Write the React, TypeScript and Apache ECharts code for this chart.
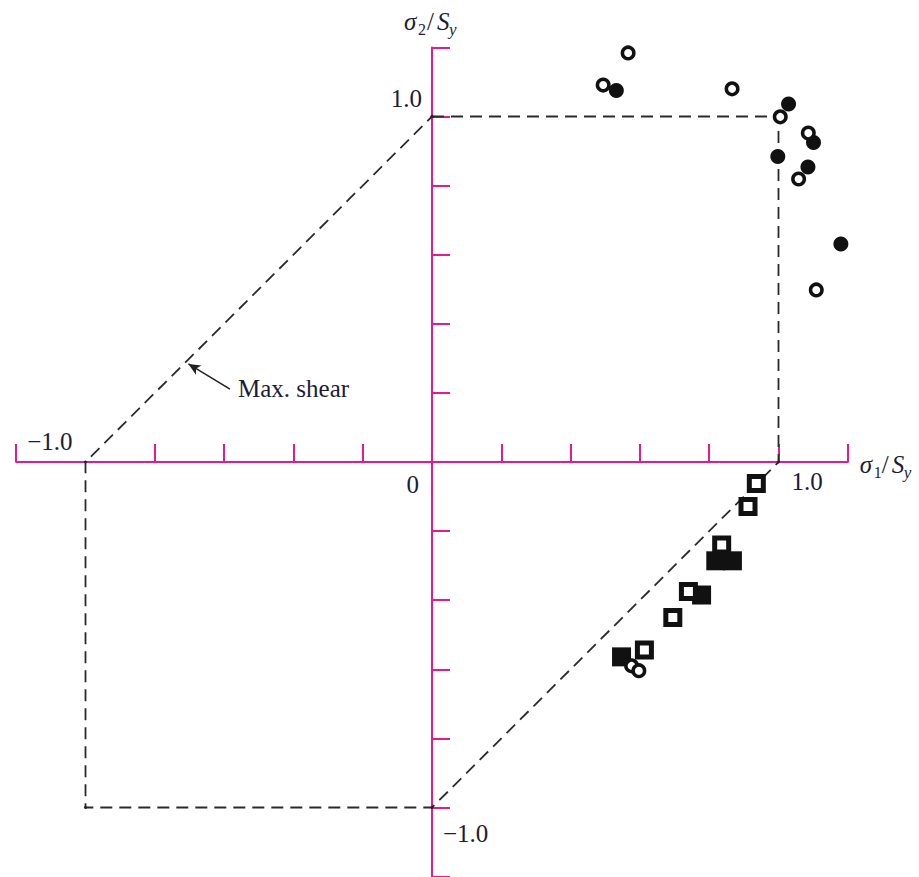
import React, { useEffect, useRef } from "react";
import * as echarts from "echarts";

// Normalised principal stresses (σ1/Sy, σ2/Sy) of the test specimens
const openCircles: [number, number][] = [
  [0.566, 1.184], [0.494, 1.091], [0.866, 1.08], [1.005, 0.999], [1.086, 0.952],
  [1.058, 0.819], [1.109, 0.498], [0.576, -0.59], [0.597, -0.604],
];
const filledCircles: [number, number][] = [
  [0.532, 1.075], [1.029, 1.036], [0.998, 0.884], [1.101, 0.925], [1.085, 0.854],
  [1.18, 0.631],
];
const openSquares: [number, number][] = [
  [0.936, -0.062], [0.912, -0.129], [0.836, -0.24], [0.74, -0.375], [0.695, -0.45],
  [0.613, -0.544],
];
const filledSquares: [number, number][] = [
  [0.819, -0.286], [0.867, -0.286], [0.778, -0.385], [0.547, -0.564],
];

// Maximum-shear-stress (Tresca) hexagon
const trescaHexagon: [number, number][] = [
  [0, 1], [1, 1], [1, 0], [0, -1], [-1, -1], [-1, 0], [0, 1],
];

// Ticks drawn on each axis
const xTicks = [-1.2, -0.8, -0.6, -0.4, -0.2, 0.2, 0.4, 0.6, 0.8, 1.0, 1.2];
const yTicks = [-1.2, -1.0, -0.8, -0.6, -0.4, -0.2, 0.2, 0.4, 0.6, 0.8, 1.0, 1.2];

// "Max. shear" pointer: tail and tip
const shearArrow: [number, number][] = [[-0.583, 0.211], [-0.703, 0.284]];

const MAGENTA = "#e8198b";
const INK = "#1c1c38";
const MARK = "#111111";
const SERIF = '"Liberation Serif", "Times New Roman", serif';
const FONT = 25;

export default function App() {
  const ref = useRef<HTMLDivElement>(null);

  useEffect(() => {
    const el = ref.current;
    if (!el) return;
    const chart = echarts.init(el, null, { renderer: "svg" });

    const axisCommon = {
      type: "value" as const,
      min: -1.2,
      max: 1.2,
      interval: 0.2,
      splitLine: { show: false },
      axisLabel: { show: false },
      axisLine: { show: true, onZero: true, lineStyle: { color: MAGENTA, width: 2 } },
    };

    chart.setOption({
      animation: false,
      backgroundColor: "#ffffff",
      grid: { left: 16.2, top: 47.4, width: 831.6, height: 829.2 },
      xAxis: {
        ...axisCommon,
        axisTick: {
          show: true,
          inside: true,
          length: 18,
          customValues: xTicks,
          lineStyle: { color: MAGENTA, width: 2 },
        },
      },
      yAxis: {
        ...axisCommon,
        axisTick: {
          show: true,
          inside: true,
          length: 18,
          customValues: yTicks,
          lineStyle: { color: MAGENTA, width: 2 },
        },
      },
      series: [
        {
          type: "line",
          data: trescaHexagon,
          symbol: "circle",
          symbolSize: 3,
          itemStyle: { color: "#222" },
          lineStyle: { color: "#2a2a2a", width: 1.8, type: [12, 7] },
          clip: false,
          z: 3,
          markLine: {
            silent: true,
            symbol: ["none", "arrow"],
            symbolSize: [8, 12],
            label: { show: false },
            lineStyle: { color: "#222", width: 1.6, type: "solid" },
            data: [[{ coord: shearArrow[0] }, { coord: shearArrow[1] }]],
          },
        },
        {
          type: "scatter",
          data: filledSquares,
          symbol: "rect",
          symbolSize: 19,
          itemStyle: { color: MARK, opacity: 1 },
          z: 4,
        },
        {
          type: "scatter",
          data: openSquares,
          symbol: "rect",
          symbolSize: 14,
          itemStyle: { color: "#fff", borderColor: MARK, borderWidth: 5, opacity: 1 },
          z: 5,
        },
        {
          type: "scatter",
          data: filledCircles,
          symbol: "circle",
          symbolSize: 15,
          itemStyle: { color: MARK, opacity: 1 },
          z: 6,
        },
        {
          type: "scatter",
          data: openCircles,
          symbol: "circle",
          symbolSize: 11.5,
          itemStyle: { color: "#fff", borderColor: MARK, borderWidth: 3.5, opacity: 1 },
          z: 7,
        },
      ],
    });

    const px = (p: [number, number]) =>
      chart.convertToPixel({ xAxisIndex: 0, yAxisIndex: 0 }, p) as number[];

    const txt = (
      text: string,
      x: number,
      y: number,
      opts: { size?: number; italic?: boolean; align?: string } = {}
    ) => ({
      type: "text",
      x,
      y,
      z: 10,
      style: {
        text,
        fill: INK,
        fontFamily: SERIF,
        fontSize: opts.size ?? FONT,
        fontStyle: opts.italic ? "italic" : "normal",
        align: opts.align ?? "left",
        verticalAlign: "middle",
      },
    });

    // axis titles σ2/Sy and σ1/Sy built from separate pieces for the subscripts
    const axisTitle = (x0: number, y0: number, sub: string, offs: number[]) => [
      txt("σ", x0 + offs[0], y0, { italic: true }),
      txt(sub, x0 + offs[1], y0 + 8, { size: 16 }),
      txt("/", x0 + offs[2], y0),
      txt("S", x0 + offs[3], y0, { italic: true }),
      txt("y", x0 + offs[4], y0 + 8, { size: 17, italic: true }),
    ];

    const yTop = px([0, 1.2]);
    const xRight = px([1.2, 0]);
    const o = px([0, 0]);
    const yOne = px([0, 1]);
    const yMinus = px([0, -1]);
    const xOne = px([1, 0]);
    const xMinus = px([-1, 0]);
    const tail = px(shearArrow[0]);

    chart.setOption({
      graphic: [
        ...axisTitle(yTop[0] - 28, yTop[1] - 26, "2", [0, 14, 23, 33, 45]),
        ...axisTitle(xRight[0] + 12, xRight[1] + 2, "1", [0, 14, 22, 32, 44]),
        txt("1.0", yOne[0] - 10, yOne[1] - 18, { align: "right" }),
        txt("−1.0", yMinus[0] + 11, yMinus[1] + 26),
        txt("0", o[0] - 13, o[1] + 22, { align: "right" }),
        txt("1.0", xOne[0] + 13, xOne[1] + 19),
        txt("−1.0", xMinus[0] - 13, xMinus[1] - 21, { align: "right" }),
        txt("Max. shear", tail[0] + 8, tail[1] - 1),
      ],
    });

    return () => chart.dispose();
  }, []);

  return (
    <div
      ref={ref}
      style={{ position: "absolute", left: 0, top: 0, width: 919, height: 877 }}
    />
  );
}
